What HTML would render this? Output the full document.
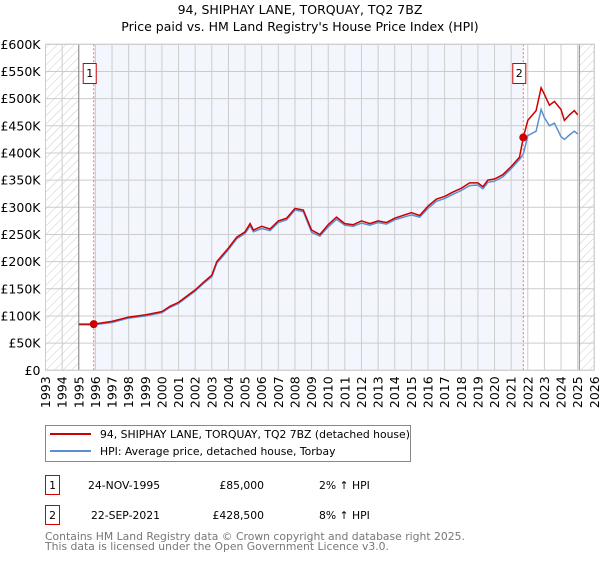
<!DOCTYPE html>
<html><head><meta charset="utf-8"><style>
body{margin:0;background:#fff;width:600px;height:560px;overflow:hidden;font-family:"DejaVu Sans","Liberation Sans",sans-serif}
svg text{font-family:"DejaVu Sans","Liberation Sans",sans-serif}
</style></head><body>
<svg id="chart" width="600" height="560" xmlns="http://www.w3.org/2000/svg">
<defs><pattern id="hatch" width="6" height="6" patternUnits="userSpaceOnUse" patternTransform="rotate(45)"><line x1="0" y1="0" x2="0" y2="6" stroke="#ccc" stroke-width="1"/></pattern></defs>
<text x="300" y="14" text-anchor="middle" font-size="12.5">94, SHIPHAY LANE, TORQUAY, TQ2 7BZ</text>
<text x="300" y="31" text-anchor="middle" font-size="12.5">Price paid vs. HM Land Registry's House Price Index (HPI)</text>
<g id="plot"></g>
<g>
<rect x="45.5" y="425.5" width="365" height="36" fill="#fff" stroke="#888"/>
<line x1="50" y1="434" x2="91" y2="434" stroke="#cc0000" stroke-width="2"/>
<text x="100" y="438" font-size="10.8">94, SHIPHAY LANE, TORQUAY, TQ2 7BZ (detached house)</text>
<line x1="50" y1="451" x2="91" y2="451" stroke="#5b8fd1" stroke-width="2"/>
<text x="100" y="455" font-size="10.8">HPI: Average price, detached house, Torbay</text>
</g>
<g font-size="10.8">
<rect x="45.5" y="475.5" width="14" height="19" fill="#fff" stroke="#cc0000"/><text x="52.5" y="489" text-anchor="middle">1</text>
<text x="88" y="489">24-NOV-1995</text><text x="264" y="489" text-anchor="end">£85,000</text><text x="319" y="489">2% ↑ HPI</text>
<rect x="45.5" y="505.5" width="14" height="19" fill="#fff" stroke="#cc0000"/><text x="52.5" y="519" text-anchor="middle">2</text>
<text x="91" y="519">22-SEP-2021</text><text x="264" y="519" text-anchor="end">£428,500</text><text x="319" y="519">8% ↑ HPI</text>
</g>
<text x="45" y="540" font-size="10.8" fill="#777">Contains HM Land Registry data © Crown copyright and database right 2025.</text>
<text x="45" y="550" font-size="10.8" fill="#777">This data is licensed under the Open Government Licence v3.0.</text>
</svg>
<script>
const years=[1995,1995.9,1997,1998,1999,2000,2000.5,2001,2002,2002.5,2003,2003.3,2004,2004.5,2005,2005.3,2005.5,2006,2006.5,2007,2007.5,2008,2008.5,2009,2009.5,2010,2010.5,2011,2011.5,2012,2012.5,2013,2013.5,2014,2015,2015.5,2016,2016.5,2017,2017.5,2018,2018.5,2019,2019.3,2019.6,2020,2020.5,2021,2021.5,2021.73,2022,2022.5,2022.8,2023,2023.3,2023.6,2024,2024.2,2024.5,2024.8,2025];
const priceSeries=[85,85,90,98,102,108,118,125,148,162,175,200,225,245,255,270,258,265,260,275,280,298,295,258,250,268,282,270,268,275,270,275,272,280,290,285,302,315,320,328,335,345,345,338,350,352,360,375,392,428.5,460,478,520,508,488,495,480,460,470,478,470];
const hpiSeries=[84,84,88,96,100,106,116,123,146,160,172,197,222,242,252,266,255,261,257,272,277,295,292,254,247,264,278,267,265,271,267,272,269,277,286,282,298,311,316,324,331,340,341,334,346,348,356,371,388,398,432,440,480,465,450,455,430,425,433,440,435];
const yTicks=[0,50,100,150,200,250,300,350,400,450,500,550,600];
const xTicks=[1993,1994,1995,1996,1997,1998,1999,2000,2001,2002,2003,2004,2005,2006,2007,2008,2009,2010,2011,2012,2013,2014,2015,2016,2017,2018,2019,2020,2021,2022,2023,2024,2025,2026];
const saleYears=[1995.9,2021.73];
const saleValues=[85,428.5];
const L=45.5,R=594.3,T=44.3,B=370.3;
const X=y=>L+(y-1993)/(2026-1993)*(R-L);
const Y=v=>B-v/600*(B-T);
const g=document.getElementById('plot');const NS='http://www.w3.org/2000/svg';
function el(t,a,p){const e=document.createElementNS(NS,t);for(const k in a)e.setAttribute(k,a[k]);(p||g).appendChild(e);return e;}
let r;
r=el('rect',{x:L,y:T,width:R-L,height:B-T,fill:'#fff'});


r=el('rect',{x:X(saleYears[0]),y:T,width:X(saleYears[1])-X(saleYears[0]),height:B-T,fill:'#eef3fc',opacity:0.7});


r=el('rect',{x:L,y:T,width:X(1995)-L,height:B-T,fill:'url(#hatch)'});


r=el('rect',{x:X(2025.1),y:T,width:R-X(2025.1),height:B-T,fill:'url(#hatch)'});


yTicks.forEach(v=>{
 const l=el('line',{x1:L,x2:R,y1:Y(v),y2:Y(v),stroke:'#ccc'});
 
 
 const t=el('text',{x:L-5,y:Y(v)+4.5,'text-anchor':'end','font-size':12.5});
 
 
 t.textContent=v===0?'£0':'£'+v+'K';
});
xTicks.forEach(yr=>{
 const l=el('line',{x1:X(yr),x2:X(yr),y1:T,y2:B,stroke:'#ccc'});
 
 
 const t=el('text',{x:0,y:0,'text-anchor':'end','font-size':12.5,transform:`translate(${X(yr)+4.5},${B+6}) rotate(-90)`});
 
 
 t.textContent=yr;
});
[1995,2025.1].forEach(yr=>{const l=el('line',{x1:X(yr),x2:X(yr),y1:T,y2:B,stroke:'#888'});
 
 });
const pts=s=>years.map((y,i)=>X(y).toFixed(1)+','+Y(s[i]).toFixed(1)).join(' ');
let p=el('polyline',{points:pts(hpiSeries),fill:'none',stroke:'#5b8fd1','stroke-width':1.5});


p=el('polyline',{points:pts(priceSeries),fill:'none',stroke:'#cc0000','stroke-width':1.5});


saleYears.forEach((yr,i)=>{
 const l=el('line',{x1:X(yr),x2:X(yr),y1:T,y2:B,stroke:'#f66','stroke-dasharray':'2,2'});
 
 
 const c=el('circle',{cx:X(yr),cy:Y(saleValues[i]),r:4,fill:'#cc0000'});
 
 
 const b=el('rect',{x:X(yr)-10.5,y:63.5,width:13,height:20,fill:'#fff',stroke:'#cc0000'});
 
 
 const t=el('text',{x:X(yr)-4,y:77,'text-anchor':'middle','font-size':11});
 
 
 t.textContent=i+1;
});
r=el('rect',{x:L,y:T,width:R-L,height:B-T,fill:'none',stroke:'#ccc'});


</script>
</body></html>
